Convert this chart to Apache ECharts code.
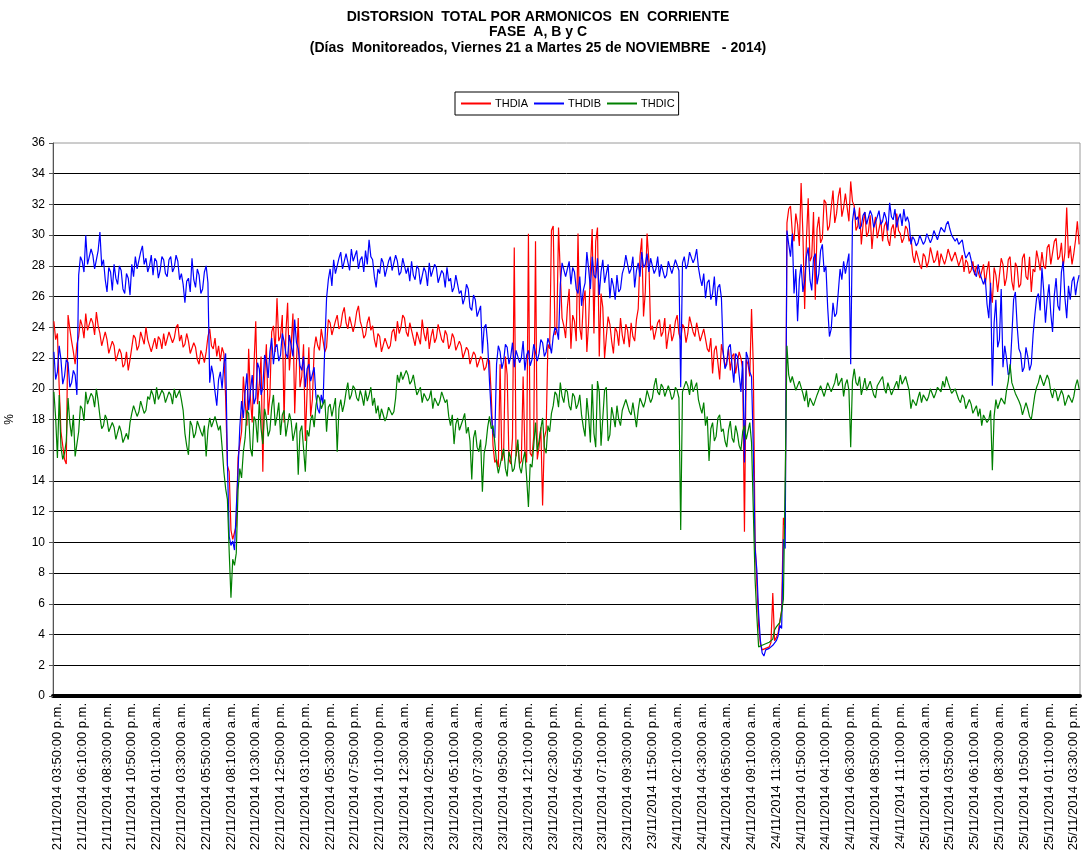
<!DOCTYPE html>
<html>
<head>
<meta charset="utf-8">
<title>THD corriente</title>
<script src="https://cdn.jsdelivr.net/npm/echarts@6/dist/echarts.min.js"></script>
<style>
  html, body { margin: 0; padding: 0; background: #fff; }
  #chart { width: 1083px; height: 854px; }
</style>
</head>
<body>
<div id="chart"></div>
<script>
// Registro cada 10 minutos desde el 21/11/2014 03:30 p.m.
const startUTC = Date.UTC(2014, 10, 21, 15, 30);
const stepMin = 10;
const labelEvery = 14;  // una etiqueta cada 2 h 20 min
const labelOffset = 2;  // primera etiqueta: 21/11/2014 03:50:00 p.m.

const seriesNames = ['THDIA', 'THDIB', 'THDIC'];
const seriesColors = ['#ff0000', '#0000ff', '#008000'];

// THD de corriente, fase A (%)
const thdia = [
  24.4,23.2, 23.6,20.1, 17.2,16.3, 15.4,15.1, 24.8,23.9, 23.1,22.4, 21.6,22.9, 23.4,24.5, 24.1,23.3, 24.9,23.8,
  23.7,24.6, 24.3,23.5, 25.0,24.1, 23.6,22.8, 22.9,23.7, 23.2,22.3, 22.4,23.1, 22.8,21.8, 21.9,22.6, 22.3,21.4,
  21.6,22.4, 21.2,21.9, 22.7,23.5, 23.3,22.5, 22.8,23.7, 23.6,22.9, 24.0,23.2, 23.1,22.4, 22.5,23.3, 22.6,23.4,
  23.2,22.6, 23.6,22.8, 22.9,23.7, 23.8,23.0, 23.3,24.0, 24.2,23.1, 23.5,22.7, 22.9,23.6, 23.1,22.3, 22.4,23.0,
  22.7,21.9, 21.6,22.5, 22.2,21.7, 22.4,23.4, 23.9,22.8, 22.6,23.3, 22.1,22.8, 21.8,22.7, 22.3,19.4, 15.0,14.6,
  10.8,10.2, 10.3,11.1, 15.5,16.4, 17.2,20.8, 19.2,17.6, 22.6,19.4, 17.8,21.5, 24.4,19.0, 20.3,22.1, 14.6,20.7,
  22.9,18.3, 19.6,23.7, 24.1,22.4, 25.9,23.1, 23.4,24.8, 17.8,23.6, 25.6,21.2, 22.8,24.9, 18.4,21.7, 24.6,20.1,
  20.8,22.9, 16.6,19.8, 22.7,18.2, 19.3,22.6, 23.4,22.8, 22.5,23.9, 23.8,22.4, 22.7,24.5, 24.3,23.5, 23.6,24.4,
  24.8,23.9, 24.1,24.9, 25.3,24.3, 23.9,24.7, 24.6,23.7, 24.2,25.0, 25.4,24.4, 24.0,23.3, 23.5,24.3, 24.7,23.8,
  24.1,23.2, 22.7,23.6, 23.4,22.4, 22.5,23.3, 23.2,22.6, 22.8,23.7, 23.9,23.1, 24.4,23.6, 24.0,24.8, 24.6,23.7,
  23.4,24.3, 24.2,23.3, 22.8,23.7, 23.6,22.9, 24.5,23.6, 23.1,24.0, 22.6,23.4, 23.9,23.0, 23.3,24.2, 24.1,23.2,
  23.0,23.8, 23.5,22.6, 22.9,23.6, 23.3,22.5, 22.4,23.1, 22.8,22.0, 21.9,22.7, 22.5,21.6, 21.7,22.4, 22.2,21.4,
  21.5,22.1, 21.9,21.2, 21.4,22.0, 21.8,19.6, 16.3,15.2, 15.4,14.9, 21.6,15.3, 15.8,22.1, 20.9,15.4, 15.1,16.8,
  29.2,15.6, 16.4,15.1, 15.3,20.8, 16.0,15.2, 30.1,15.8, 15.6,16.9, 29.6,15.4, 16.2,17.5, 12.4,16.8, 17.3,22.9,
  22.6,30.3, 30.6,23.5, 23.8,30.5, 30.4,24.6, 24.1,23.3, 25.3,26.5, 22.6,24.8, 24.4,23.1, 30.1,24.0, 23.2,25.7,
  26.4,22.4, 24.3,27.8, 30.4,23.6, 29.6,30.5, 22.1,26.2, 25.3,22.0, 23.4,24.7, 24.2,23.1, 22.3,24.0, 23.7,22.8,
  24.6,23.5, 22.9,24.2, 23.8,22.7, 24.3,23.4, 23.1,24.5, 25.2,28.6, 29.8,24.7, 26.3,30.1, 28.4,23.8, 24.1,23.2,
  23.3,24.3, 24.5,23.4, 23.7,24.6, 22.6,23.5, 24.2,23.1, 23.5,24.4, 24.8,23.6, 23.2,24.2, 24.0,23.0, 23.6,24.7,
  24.6,23.7, 23.4,24.3, 24.2,23.1, 23.0,23.9, 23.8,22.6, 22.4,23.3, 21.0,22.5, 22.8,21.7, 20.6,22.9, 22.3,21.4,
  21.8,22.6, 21.2,22.1, 22.3,21.0, 20.9,22.4, 22.0,21.3, 10.7,21.9, 21.6,20.8, 25.2,21.5, 10.1,7.3, 4.6,3.4,
  3.0,3.1, 3.1,3.0, 3.2,3.5, 6.7,3.6, 3.8,4.1, 4.9,5.6, 11.6,10.9, 30.8,31.7, 31.9,30.2, 29.6,31.4,
  30.7,29.3, 33.4,30.1, 25.2,29.7, 32.4,28.3, 28.6,31.5, 25.8,30.4, 31.2,29.5, 29.8,32.3, 32.1,30.3, 30.6,31.8,
  32.9,30.8, 31.4,32.5, 33.1,31.2, 31.8,32.7, 32.6,30.9, 33.5,32.2, 31.9,30.3, 30.6,31.8, 29.4,30.7, 31.5,29.9,
  30.2,31.3, 29.1,30.5, 31.2,29.8, 30.4,31.0, 29.6,30.6, 30.9,29.7, 29.3,30.4, 30.7,29.8, 31.4,30.3, 30.1,29.5,
  29.8,30.6, 30.4,29.6, 29.9,28.7, 28.2,29.0, 28.9,28.1, 27.8,28.8, 28.6,27.9, 28.3,29.2, 29.1,28.2, 28.4,29.0,
  28.0,28.8, 28.7,28.1, 28.5,29.1, 29.0,28.3, 28.3,28.9, 28.8,28.0, 28.1,28.7, 27.6,28.4, 28.2,27.5, 27.7,28.3,
  27.4,28.0, 27.9,27.2, 27.3,28.1, 26.8,27.7, 28.3,26.5, 25.6,27.9, 27.4,26.3, 26.2,28.5, 28.1,26.7, 27.2,28.4,
  28.6,27.0, 26.4,28.2, 27.9,26.6, 26.8,28.5, 28.8,27.3, 27.1,28.6, 26.3,27.8, 27.6,29.0, 28.4,27.7, 28.9,28.0,
  27.8,29.2, 29.4,28.1, 28.2,29.6, 29.8,28.4, 28.6,29.5, 27.9,28.9, 31.8,28.5, 29.3,28.1, 28.8,29.7, 30.9,29.4
];

// THD de corriente, fase B (%)
const thdib = [
  22.4,20.6, 21.1,22.8, 21.9,20.3, 20.8,21.9, 21.7,20.1, 20.4,21.2, 20.9,19.6, 27.4,28.6, 28.3,27.6, 30.0,28.1,
  28.2,29.1, 28.7,27.8, 27.9,29.0, 30.2,28.0, 28.4,27.1, 26.3,27.9, 27.6,26.4, 28.1,27.2, 26.8,28.0, 27.7,26.5,
  26.2,27.5, 27.2,26.1, 28.1,27.3, 28.6,27.8, 27.9,28.9, 29.3,28.1, 28.5,27.6, 28.0,28.7, 27.4,28.5, 28.3,27.2,
  27.7,28.6, 28.4,27.5, 27.3,28.4, 28.6,27.6, 27.9,28.7, 28.3,27.1, 27.5,26.8, 25.6,27.0, 27.2,26.3, 28.5,27.1,
  26.6,27.8, 27.4,26.2, 26.5,27.6, 28.0,26.9, 20.4,21.5, 20.9,19.8, 18.9,20.6, 21.1,20.0, 21.6,22.3, 15.2,10.4,
  9.8,10.1, 9.5,12.2, 14.6,17.5, 19.2,18.1, 19.8,21.0, 18.6,19.9, 20.9,19.0, 19.4,21.7, 21.3,19.6, 20.1,22.2,
  21.8,20.7, 22.4,23.3, 21.6,22.7, 22.9,21.8, 22.2,23.6, 23.1,22.3, 22.0,23.5, 23.4,22.1, 24.5,23.0, 22.6,21.5,
  21.2,22.1, 20.1,21.3, 21.6,20.5, 20.4,21.4, 19.5,18.7, 18.4,19.6, 19.0,22.8, 25.9,27.1, 27.8,26.7, 28.4,27.5,
  27.6,28.5, 28.9,27.8, 27.9,28.8, 28.7,27.7, 29.1,28.3, 28.2,29.0, 27.8,28.4, 28.6,27.6, 29.0,28.1, 29.7,28.6,
  28.4,27.3, 26.6,27.8, 27.5,28.5, 28.2,27.3, 27.4,28.3, 28.6,27.7, 27.8,28.7, 28.3,27.4, 27.6,28.5, 28.4,27.5,
  27.9,27.0, 28.3,27.4, 27.1,28.0, 27.8,26.8, 26.9,27.9, 27.6,26.7, 28.2,27.3, 27.4,28.1, 27.9,26.9, 26.8,27.7,
  27.5,26.6, 27.9,27.0, 27.2,26.3, 26.6,27.4, 27.3,26.2, 26.4,25.5, 25.9,26.8, 26.5,25.3, 25.1,26.1, 25.8,24.7,
  24.6,25.4, 22.3,24.0, 24.2,22.9, 20.5,18.4, 17.1,16.8, 21.6,22.8, 22.4,21.3, 21.8,22.9, 22.7,21.6, 22.1,23.0,
  21.4,22.5, 22.6,21.7, 22.0,23.1, 21.2,22.2, 22.5,21.5, 21.9,22.9, 22.8,21.8, 22.3,23.2, 23.0,22.1, 22.4,23.3,
  22.9,22.3, 23.4,24.0, 23.8,23.2, 26.8,28.2, 28.1,27.3, 27.4,28.3, 26.8,27.9, 27.6,26.5, 26.2,27.3, 25.4,26.4,
  26.9,28.9, 27.8,26.5, 28.6,27.4, 27.2,28.5, 26.1,27.6, 28.4,26.9, 27.0,28.1, 25.9,27.2, 26.7,25.8, 27.4,26.3,
  26.5,27.5, 27.9,28.7, 28.6,27.5, 27.8,28.6, 26.6,27.7, 28.2,27.3, 28.9,27.9, 28.1,28.8, 27.6,28.5, 28.4,27.5,
  27.8,28.6, 27.3,28.1, 28.0,27.2, 27.4,28.3, 28.2,27.5, 27.6,28.4, 28.3,27.7, 20.1,28.2, 28.6,27.8, 28.1,28.9,
  29.0,28.2, 28.5,29.1, 27.9,27.2, 26.7,27.5, 25.9,26.9, 27.1,25.8, 26.2,27.3, 25.4,26.6, 26.8,25.9, 22.4,21.3,
  21.6,22.7, 22.9,21.5, 20.4,22.3, 22.1,20.9, 19.8,21.8, 15.2,22.4, 22.0,21.1, 20.8,16.1, 9.6,8.2, 5.4,3.6,
  2.8,2.6, 3.0,2.9, 3.1,3.0, 3.3,3.2, 3.6,3.9, 4.6,4.4, 10.2,9.6, 30.3,29.4, 28.6,30.1, 26.2,27.8,
  24.4,27.1, 28.1,26.3, 27.0,28.6, 29.2,27.1, 26.4,28.5, 28.8,26.8, 27.5,29.0, 29.4,27.6, 28.0,25.3, 23.4,23.9,
  25.6,24.7, 24.9,26.3, 27.8,27.1, 28.3,27.5, 27.6,28.8, 21.6,30.9, 31.8,31.0, 31.2,30.4, 30.6,31.3, 31.5,30.7,
  30.8,31.6, 31.3,30.5, 30.4,31.2, 31.6,30.7, 30.9,31.5, 31.1,30.3, 32.1,31.2, 31.0,31.7, 30.5,31.1, 31.4,30.6,
  31.7,30.9, 31.2,30.8, 29.4,29.9, 29.7,29.3, 29.5,30.0, 29.9,29.4, 29.6,30.1, 30.0,29.5, 29.8,30.3, 30.2,29.7,
  30.1,30.5, 30.6,30.2, 30.7,30.9, 30.4,30.0, 30.1,29.6, 29.8,29.4, 29.3,29.7, 29.0,28.5, 28.6,28.9, 28.4,27.8,
  27.9,27.3, 28.1,27.5, 27.6,26.8, 27.2,25.5, 24.6,26.9, 20.2,24.3, 25.8,22.7, 23.2,26.5, 21.4,22.8, 22.0,20.9,
  21.1,23.4, 25.8,26.3, 24.1,22.6, 22.3,21.1, 21.4,22.7, 22.1,21.2, 21.6,23.5, 24.8,25.9, 26.2,25.1, 27.9,26.4,
  24.3,25.8, 26.8,24.9, 23.7,26.1, 27.2,25.4, 25.1,27.6, 28.3,25.9, 24.6,26.7, 25.8,27.0, 27.3,26.1, 26.9,27.4
];

// THD de corriente, fase C (%)
const thdic = [
  19.8,18.1, 15.5,19.6, 16.2,15.4, 15.8,16.6, 19.4,17.8, 16.9,18.3, 15.6,16.4, 17.2,18.9, 18.7,17.9, 19.8,19.0,
  19.1,19.7, 19.5,18.8, 20.0,19.2, 18.2,17.4, 17.6,18.3, 18.0,17.2, 17.1,17.8, 17.5,16.7, 16.8,17.6, 17.2,16.5,
  16.4,17.1, 16.7,17.8, 18.4,18.9, 18.9,18.2, 18.5,19.2, 19.1,18.4, 18.6,19.5, 19.3,19.9, 19.6,19.0, 20.1,19.3,
  19.4,19.9, 19.7,19.1, 19.2,19.8, 19.6,19.0, 20.0,19.4, 19.5,19.9, 19.3,18.6, 17.1,16.3, 15.7,17.9, 17.6,16.8,
  17.1,17.9, 17.8,17.2, 16.9,17.6, 15.6,17.3, 18.1,17.5, 17.4,18.2, 18.3,17.3, 17.6,16.2, 14.6,13.5, 12.8,9.4,
  6.4,8.9, 8.5,9.3, 13.4,14.8, 14.2,15.9, 16.8,18.6, 18.4,16.1, 15.6,18.2, 17.9,16.5, 19.2,17.4, 16.4,18.7,
  18.1,16.9, 17.3,18.8, 19.6,17.6, 18.2,19.1, 17.0,18.3, 18.6,16.9, 16.8,18.4, 17.9,16.6, 16.5,17.8, 14.4,17.2,
  17.6,16.1, 14.6,17.3, 16.9,18.0, 18.3,17.5, 18.9,19.6, 19.4,18.7, 18.6,19.3, 17.2,18.8, 19.0,18.2, 18.1,19.4,
  15.9,18.7, 19.3,18.5, 19.0,19.8, 20.4,19.3, 19.6,20.2, 20.0,19.4, 19.2,19.9, 19.5,18.9, 19.9,19.2, 19.6,20.1,
  18.9,19.4, 18.4,18.9, 18.0,18.7, 18.6,17.9, 18.2,18.8, 18.9,18.3, 18.5,19.4, 20.9,20.4, 21.1,20.6, 20.7,21.2,
  20.9,20.3, 20.5,20.9, 20.2,19.6, 19.6,20.1, 19.1,19.7, 19.8,19.2, 19.4,19.9, 18.7,19.4, 19.5,18.9, 19.2,19.8,
  19.8,19.1, 19.3,18.2, 17.6,18.3, 16.4,17.7, 18.1,17.3, 17.2,18.0, 18.4,17.1, 17.5,16.6, 14.1,16.8, 17.3,16.2,
  15.9,16.7, 13.3,15.8, 16.4,17.5, 18.2,17.4, 17.6,16.5, 15.2,14.5, 14.6,15.6, 16.1,14.8, 14.3,15.9, 15.5,14.6,
  14.8,15.7, 16.7,14.9, 14.5,15.4, 15.9,14.2, 12.3,15.1, 14.9,16.3, 17.8,15.9, 16.6,17.4, 18.1,16.2, 15.8,17.6,
  17.2,18.4, 18.9,19.8, 19.6,18.8, 20.4,19.5, 19.1,20.0, 19.8,18.9, 18.6,19.7, 19.5,18.7, 19.0,19.6, 18.3,17.5,
  16.9,19.4, 18.2,16.5, 20.3,17.1, 16.2,20.5, 19.8,16.3, 16.4,19.9, 20.1,16.6, 17.0,18.8, 18.2,17.5, 18.9,18.0,
  17.6,18.6, 18.7,19.3, 19.4,18.5, 18.3,19.1, 19.0,17.5, 18.6,19.4, 19.5,18.8, 19.2,19.9, 19.8,19.1, 19.4,20.2,
  20.7,19.8, 19.6,20.3, 20.1,19.5, 19.4,20.2, 19.8,19.3, 19.5,20.1, 19.9,19.4, 10.8,19.8, 19.7,20.5, 20.2,19.6,
  20.6,19.8, 19.9,20.4, 19.3,18.8, 18.4,19.1, 17.6,18.2, 15.3,17.4, 17.8,16.6, 16.9,18.1, 18.3,17.2, 17.4,16.6,
  16.2,17.3, 17.9,16.8, 16.5,17.6, 17.1,16.3, 16.0,17.2, 17.6,16.7, 16.8,17.8, 16.5,12.1, 7.6,5.2, 3.2,3.3,
  3.3,3.4, 3.4,3.5, 3.5,3.6, 3.7,4.3, 4.5,4.6, 4.8,5.5, 6.3,14.0, 22.8,20.9, 20.4,20.8, 20.9,19.9,
  19.8,20.5, 20.6,19.7, 19.2,19.9, 18.8,19.4, 19.5,18.9, 18.9,19.6, 19.7,20.2, 20.3,19.5, 19.6,20.4, 20.5,19.8,
  19.7,20.4, 21.0,20.2, 20.1,20.7, 19.5,20.3, 20.6,19.9, 16.2,20.5, 21.3,20.4, 20.2,20.8, 19.6,20.1, 20.7,19.9,
  19.8,20.5, 20.4,19.6, 19.4,20.2, 20.1,20.6, 20.8,20.0, 19.7,20.4, 20.3,19.6, 19.5,20.2, 20.5,20.0, 20.9,20.3,
  20.4,20.8, 20.7,19.9, 18.7,19.3, 19.2,18.9, 19.4,19.8, 19.1,19.6, 19.6,19.2, 19.5,20.0, 19.9,19.4, 19.7,20.1,
  20.2,19.8, 20.5,20.1, 20.8,20.4, 20.3,19.7, 19.6,20.0, 19.9,19.3, 19.1,19.6, 19.4,18.7, 18.8,19.3, 19.0,18.4,
  18.5,18.9, 18.2,18.7, 17.6,18.3, 18.4,17.8, 18.0,18.6, 14.7,18.2, 19.3,18.7, 18.6,19.4, 19.5,19.0, 19.9,20.5,
  21.6,20.4, 20.3,19.7, 19.8,19.2, 18.9,18.3, 18.4,19.1, 18.7,18.2, 18.0,18.8, 19.6,20.1, 20.4,20.9, 20.8,20.2,
  20.3,20.9, 20.6,19.8, 19.4,20.0, 19.8,19.2, 19.1,19.9, 19.6,18.9, 18.9,19.6, 19.7,19.1, 19.5,20.2, 20.6,20.0
];

// Eje Y (%)
const yMin = 0, yMax = 36, yStep = 2;

function pad2(n) { return (n < 10 ? '0' : '') + n; }

// "dd/mm/yyyy hh:mm:00 a.m./p.m."
function stamp(i) {
  const d = new Date(startUTC + i * stepMin * 60000);
  const h = d.getUTCHours();
  const h12 = h % 12 === 0 ? 12 : h % 12;
  return pad2(d.getUTCDate()) + '/' + pad2(d.getUTCMonth() + 1) + '/' + d.getUTCFullYear() +
    ' ' + pad2(h12) + ':' + pad2(d.getUTCMinutes()) + ':00 ' + (h < 12 ? 'a.m.' : 'p.m.');
}

const categories = thdia.map((_, i) => stamp(i));
const showLabel = (i) => i >= labelOffset && (i - labelOffset) % labelEvery === 0;

const font = "'Liberation Sans', Arial, sans-serif";
const chart = echarts.init(document.getElementById('chart'), null, { renderer: 'canvas' });

chart.setOption({
  animation: false,
  backgroundColor: '#ffffff',
  textStyle: { fontFamily: font },
  title: {
    text: 'DISTORSION  TOTAL POR ARMONICOS  EN  CORRIENTE\nFASE  A, B y C\n(Días  Monitoreados, Viernes 21 a Martes 25 de NOVIEMBRE   - 2014)',
    left: 533,
    top: 4,
    textAlign: 'center',
    textStyle: { fontFamily: font, fontSize: 14, fontWeight: 'bold', color: '#000', lineHeight: 15.5 }
  },
  legend: {
    left: 455,
    top: 92,
    padding: [6, 4, 6, 6],
    itemGap: 6,
    itemWidth: 30,
    itemHeight: 2,
    icon: 'rect',
    borderColor: '#000',
    borderWidth: 1,
    backgroundColor: '#fff',
    textStyle: { fontFamily: font, fontSize: 11, color: '#000', padding: [0, 0, 0, -1] },
    data: seriesNames
  },
  grid: {
    left: 53,
    right: 3,
    top: 143,
    bottom: 158,
    show: true,
    borderColor: '#9a9a9a',
    borderWidth: 1,
    containLabel: false,
    outerBoundsMode: 'none'
  },
  xAxis: {
    type: 'category',
    data: categories,
    boundaryGap: true,
    axisLine: { show: true, onZero: false, lineStyle: { color: '#000', width: 4 } },
    axisTick: { show: false },
    splitLine: { show: false },
    axisLabel: {
      interval: (i) => showLabel(i),
      rotate: 90,
      margin: 7,
      fontFamily: font,
      fontSize: 13,
      color: '#000'
    }
  },
  yAxis: {
    type: 'value',
    min: yMin,
    max: yMax,
    interval: yStep,
    name: '%',
    nameLocation: 'middle',
    nameGap: 37,
    nameRotate: 90,
    nameTextStyle: { fontFamily: font, fontSize: 12, color: '#000' },
    axisLine: { show: true, lineStyle: { color: '#555', width: 1 } },
    axisTick: { show: true, length: 4, lineStyle: { color: '#555' } },
    axisLabel: { fontFamily: font, fontSize: 12, color: '#000', margin: 8 },
    splitLine: { show: true, showMaxLine: false, showMinLine: false, lineStyle: { color: '#000', width: 1 } }
  },
  series: [thdia, thdib, thdic].map((values, k) => ({
    name: seriesNames[k],
    type: 'line',
    data: values,
    symbol: 'none',
    showSymbol: false,
    color: seriesColors[k],
    lineStyle: { width: 1.2, color: seriesColors[k] },
    emphasis: { disabled: true }
  }))
});
</script>
</body>
</html>
